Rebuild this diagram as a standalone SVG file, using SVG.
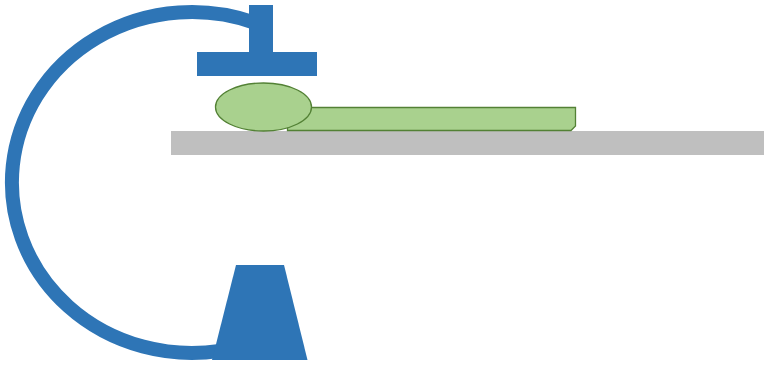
<svg xmlns="http://www.w3.org/2000/svg" width="764" height="367" viewBox="0 0 764 367">
  <style>
    .arm { fill: #2E75B6; }
    .patient { fill: #A9D18E; stroke: #538135; stroke-width: 1.3; }
  </style>
  <rect width="764" height="367" fill="#FFFFFF"/>
  <!-- C-arm ring -->
  <g id="c-arm">
    <path d="M 255 22.8 A 180 170.5 0 1 0 220 350.9" fill="none" stroke="#2E75B6" stroke-width="14"/>
  </g>
  <!-- X-ray source head (inverted T) -->
  <g id="source">
    <rect class="arm" x="249" y="5" width="24" height="48"/>
    <rect class="arm" x="197" y="52" width="120" height="24"/>
  </g>
  <!-- table -->
  <g id="table">
    <rect x="171" y="131" width="593" height="24" fill="#BFBFBF"/>
  </g>
  <!-- patient body and head -->
  <g id="patient">
    <path class="patient" d="M 287.5 107.5 H 575.5 V 126 L 571 130.5 H 287.5 Z"/>
    <ellipse class="patient" cx="263.5" cy="107" rx="48" ry="24"/>
  </g>
  <!-- detector base -->
  <g id="detector">
    <polygon class="arm" points="236,265 284,265 307.5,360 212,360"/>
  </g>
</svg>
